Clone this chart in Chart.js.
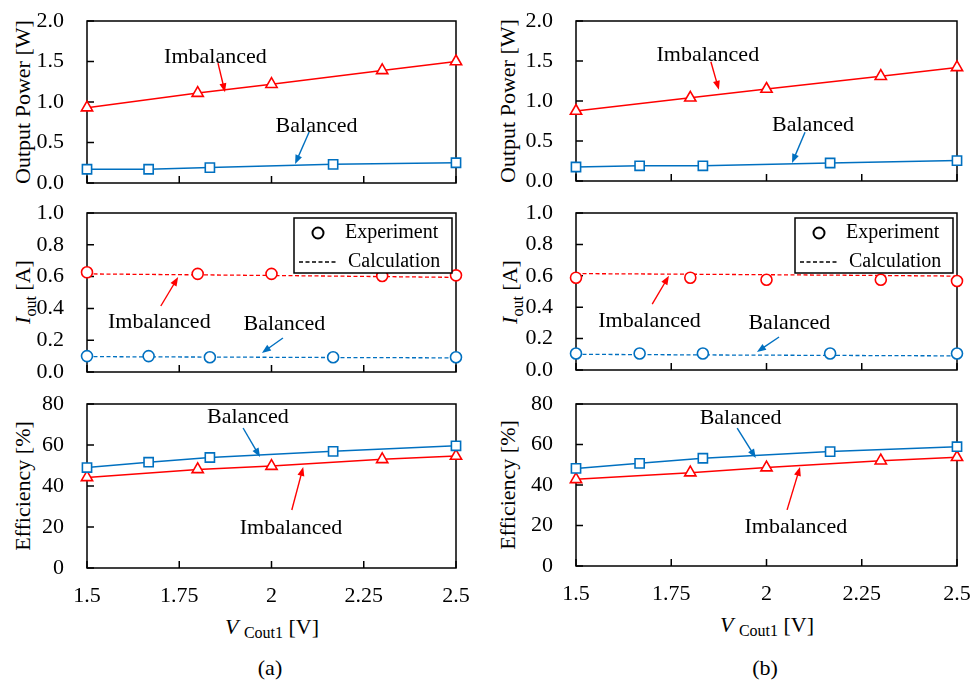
<!DOCTYPE html>
<html>
<head>
<meta charset="utf-8">
<script src="https://cdn.jsdelivr.net/npm/chart.js@4.4.0/dist/chart.umd.min.js"></script>
<style>
  body { margin: 0; background: #fff; width: 976px; height: 689px; position: relative; overflow: hidden;
         font-family: "Liberation Serif", "Times New Roman", serif; color: #000; }
  .panel { position: absolute; }
  .panel canvas { display: block; }
  .t { position: absolute; white-space: nowrap; font-size: 22px; line-height: 1; transform: translate(-50%, -50%); }
  .rot { transform: translate(-50%, -50%) rotate(-90deg); }
  .sub { font-size: 16px; position: relative; }
</style>
</head>
<body>

<div class="t rot" style="left:23px;top:102px">Output Power [W]</div>
<div class="t rot" style="left:23px;top:292px"><i>I</i><span class="sub" style="top:6px">out</span> [A]</div>
<div class="t rot" style="left:23px;top:486px">Efficiency [%]</div>
<div class="t rot" style="left:508px;top:101px">Output Power [W]</div>
<div class="t rot" style="left:510px;top:292px"><i>I</i><span class="sub" style="top:6px">out</span> [A]</div>
<div class="t rot" style="left:508px;top:485px">Efficiency [%]</div>
<div class="t" style="left:272px;top:627px"><i>V</i> <span class="sub" style="top:4px">Cout1</span> [V]</div>
<div class="t" style="left:767px;top:625px"><i>V</i> <span class="sub" style="top:4px">Cout1</span> [V]</div>
<div class="t" style="left:270px;top:668px">(a)</div>
<div class="t" style="left:765px;top:668px">(b)</div>

<script>
// x positions of the two measurement sets
const vImb = [1.5, 1.8, 2.0, 2.3, 2.5];
const vBal = [1.5, 1.667, 1.833, 2.167, 2.5];
const xTicks = [1.5, 1.75, 2, 2.25, 2.5];

// (a)
const powerImbA = [0.93, 1.11, 1.22, 1.39, 1.50];
const powerBalA = [0.17, 0.17, 0.19, 0.23, 0.25];
const ioutImbA = [0.627, 0.617, 0.617, 0.604, 0.608];
const ioutImbCalcA = [0.617, 0.611, 0.607, 0.600, 0.595];
const ioutBalA = [0.10, 0.10, 0.093, 0.093, 0.093];
const ioutBalCalcA = [0.097, 0.095, 0.094, 0.091, 0.089];
const effBalA = [49.0, 51.6, 53.9, 56.9, 59.6];
const effImbA = [44.2, 48.1, 49.7, 53.0, 54.6];

// (b)
const powerImbB = [0.875, 1.04, 1.15, 1.31, 1.42];
const powerBalB = [0.175, 0.19, 0.19, 0.225, 0.255];
const ioutImbB = [0.588, 0.588, 0.575, 0.575, 0.567];
const ioutImbCalcB = [0.614, 0.610, 0.607, 0.602, 0.598];
const ioutBalB = [0.105, 0.105, 0.105, 0.105, 0.105];
const ioutBalCalcB = [0.100, 0.098, 0.096, 0.093, 0.090];
const effBalB = [48.2, 50.7, 53.2, 56.5, 58.9];
const effImbB = [42.8, 46.1, 48.6, 52.0, 53.7];

const legendLabels = ['Experiment', 'Calculation'];

const RED = '#ff0000';
const BLUE = '#0070c0';
const FONT = '"Liberation Serif", "Times New Roman", serif';

Chart.defaults.font.family = FONT;
Chart.defaults.font.size = 22;
Chart.defaults.color = '#000';

function pts(xs, ys) {
  return xs.map((x, i) => ({ x: x, y: ys[i] }));
}

function markers(label, xs, ys, color, style, r, line) {
  return {
    label: label, data: pts(xs, ys), showLine: line,
    borderColor: color, borderWidth: 1.5, tension: 0,
    pointStyle: style, pointRadius: r, pointBorderWidth: 1.6,
    pointBorderColor: color, pointBackgroundColor: '#fff', clip: false
  };
}

function calc(label, xs, ys, color) {
  return {
    label: label, data: pts(xs, ys), borderColor: color, borderWidth: 1.3,
    borderDash: [4, 2.5], pointRadius: 0, tension: 0, clip: false
  };
}

function arrow(ctx, x1, y1, x2, y2, color) {
  const a = Math.atan2(y2 - y1, x2 - x1);
  const L = 9, W = 3.5;
  ctx.strokeStyle = color;
  ctx.fillStyle = color;
  ctx.lineWidth = 1.4;
  ctx.beginPath();
  ctx.moveTo(x1, y1);
  ctx.lineTo(x2 - Math.cos(a) * L * 0.8, y2 - Math.sin(a) * L * 0.8);
  ctx.stroke();
  ctx.beginPath();
  ctx.moveTo(x2, y2);
  ctx.lineTo(x2 - L * Math.cos(a) + W * Math.sin(a), y2 - L * Math.sin(a) - W * Math.cos(a));
  ctx.lineTo(x2 - L * Math.cos(a) - W * Math.sin(a), y2 - L * Math.sin(a) + W * Math.cos(a));
  ctx.closePath();
  ctx.fill();
}

// frame, inward ticks, callouts and the inset legend
function decor(notes, withLegend) {
  return {
    id: 'decor',
    beforeDatasetsDraw(chart) {
      const { ctx, chartArea: a, scales } = chart;
      ctx.save();
      ctx.strokeStyle = '#000';
      ctx.lineWidth = 1.5;
      ctx.beginPath();
      scales.x.ticks.forEach((t) => {
        const px = scales.x.getPixelForValue(t.value);
        ctx.moveTo(px, a.bottom);
        ctx.lineTo(px, a.bottom - 7);
      });
      scales.y.ticks.forEach((t) => {
        const py = scales.y.getPixelForValue(t.value);
        ctx.moveTo(a.left, py);
        ctx.lineTo(a.left + 7, py);
      });
      ctx.stroke();
      ctx.strokeRect(a.left, a.top, a.right - a.left, a.bottom - a.top);
      ctx.restore();
    },
    afterDatasetsDraw(chart) {
      const { ctx, chartArea: a, scales } = chart;
      const X = (v) => scales.x.getPixelForValue(v);
      const Y = (v) => scales.y.getPixelForValue(v);
      ctx.save();
      notes.forEach((n) => {
        arrow(ctx, X(n.from[0]), Y(n.from[1]), X(n.to[0]), Y(n.to[1]), n.color);
        ctx.fillStyle = '#000';
        ctx.font = '22px ' + FONT;
        ctx.textAlign = 'center';
        ctx.textBaseline = 'middle';
        ctx.fillText(n.text, X(n.x), Y(n.y));
      });
      if (withLegend) {
        const bw = 158, bh = 55;
        const bx = a.right - 4 - bw, by = a.top + 5;
        ctx.fillStyle = '#fff';
        ctx.fillRect(bx, by, bw, bh);
        ctx.strokeStyle = '#000';
        ctx.lineWidth = 1.5;
        ctx.strokeRect(bx, by, bw, bh);
        ctx.lineWidth = 2;
        ctx.beginPath();
        ctx.arc(bx + 24, by + 15, 5.5, 0, Math.PI * 2);
        ctx.stroke();
        ctx.lineWidth = 1.3;
        ctx.setLineDash([4, 2.5]);
        ctx.beginPath();
        ctx.moveTo(bx + 5, by + 44);
        ctx.lineTo(bx + 43, by + 44);
        ctx.stroke();
        ctx.setLineDash([]);
        ctx.fillStyle = '#000';
        ctx.font = '20px ' + FONT;
        ctx.textAlign = 'left';
        ctx.textBaseline = 'middle';
        ctx.fillText(legendLabels[0], bx + 51, by + 15);
        ctx.fillText(legendLabels[1], bx + 54, by + 44);
      }
      ctx.restore();
    }
  };
}

// tick padding is added to the scales' own edge padding, so leave room for it
const PAD_T = 42, PAD_R = 34, Y_W = 62;

function panel(area, yAxis, datasets, showX, notes, withLegend) {
  const xH = showX ? 62 : 42;
  const w = area.right - area.left + Y_W + PAD_R;
  const h = area.bottom - area.top + PAD_T + xH;
  const wrap = document.createElement('div');
  wrap.className = 'panel';
  wrap.style.left = (area.left - Y_W) + 'px';
  wrap.style.top = (area.top - PAD_T) + 'px';
  const cv = document.createElement('canvas');
  cv.width = w;
  cv.height = h;
  wrap.appendChild(cv);
  document.body.appendChild(wrap);

  return new Chart(cv, {
    type: 'line',
    data: { datasets: datasets },
    options: {
      responsive: false,
      animation: false,
      events: [],
      layout: { padding: { top: PAD_T, right: PAD_R, left: 0, bottom: 0 } },
      plugins: { legend: { display: false }, tooltip: { enabled: false } },
      scales: {
        x: {
          type: 'linear', min: 1.5, max: 2.5,
          afterBuildTicks: (s) => { s.ticks = xTicks.map((v) => ({ value: v })); },
          afterFit: (s) => { s.height = xH; },
          ticks: { display: showX, padding: 15, maxRotation: 0, callback: (v) => String(v) },
          grid: { display: false, drawTicks: false },
          border: { display: false }
        },
        y: {
          min: yAxis.min, max: yAxis.max,
          afterFit: (s) => { s.width = Y_W; },
          ticks: { stepSize: yAxis.step, padding: 23, callback: (v) => v.toFixed(yAxis.dec) },
          grid: { display: false, drawTicks: false },
          border: { display: false }
        }
      }
    },
    plugins: [decor(notes, withLegend)]
  });
}

const powerAxis = { min: 0, max: 2, step: 0.5, dec: 1 };
const ioutAxis = { min: 0, max: 1, step: 0.2, dec: 1 };
const effAxis = { min: 0, max: 80, step: 20, dec: 0 };

// column (a)
panel({ left: 87, right: 456, top: 21, bottom: 183 }, powerAxis, [
  markers('Imbalanced', vImb, powerImbA, RED, 'triangle', 6.5, true),
  markers('Balanced', vBal, powerBalA, BLUE, 'rect', 6.5, true)
], false, [
  { text: 'Imbalanced', x: 1.848, y: 1.556, from: [1.855, 1.48], to: [1.874, 1.12], color: RED },
  { text: 'Balanced', x: 2.122, y: 0.70, from: [2.102, 0.63], to: [2.064, 0.235], color: BLUE }
], false);

panel({ left: 87, right: 456, top: 213, bottom: 372 }, ioutAxis, [
  markers('Imbalanced', vImb, ioutImbA, RED, 'circle', 5.5, false),
  markers('Balanced', vBal, ioutBalA, BLUE, 'circle', 5.5, false),
  calc('Imbalanced calc', vImb, ioutImbCalcA, RED),
  calc('Balanced calc', vBal, ioutBalCalcA, BLUE)
], false, [
  { text: 'Imbalanced', x: 1.696, y: 0.314, from: [1.70, 0.415], to: [1.747, 0.597], color: RED },
  { text: 'Balanced', x: 2.035, y: 0.30, from: [2.031, 0.214], to: [1.974, 0.12], color: BLUE }
], true);

panel({ left: 87, right: 456, top: 404, bottom: 568 }, effAxis, [
  markers('Balanced', vBal, effBalA, BLUE, 'rect', 6.5, true),
  markers('Imbalanced', vImb, effImbA, RED, 'triangle', 6.5, true)
], true, [
  { text: 'Balanced', x: 1.936, y: 73.7, from: [1.923, 68.3], to: [1.969, 54.1], color: BLUE },
  { text: 'Imbalanced', x: 2.053, y: 19.5, from: [2.055, 28.3], to: [2.086, 49.3], color: RED }
], false);

// column (b)
panel({ left: 576, right: 957, top: 21, bottom: 181 }, powerAxis, [
  markers('Imbalanced', vImb, powerImbB, RED, 'triangle', 6.5, true),
  markers('Balanced', vBal, powerBalB, BLUE, 'rect', 6.5, true)
], false, [
  { text: 'Imbalanced', x: 1.846, y: 1.575, from: [1.854, 1.49], to: [1.875, 1.14], color: RED },
  { text: 'Balanced', x: 2.122, y: 0.70, from: [2.101, 0.61], to: [2.067, 0.225], color: BLUE }
], false);

panel({ left: 576, right: 957, top: 213, bottom: 370 }, ioutAxis, [
  markers('Imbalanced', vImb, ioutImbB, RED, 'circle', 5.5, false),
  markers('Balanced', vBal, ioutBalB, BLUE, 'circle', 5.5, false),
  calc('Imbalanced calc', vImb, ioutImbCalcB, RED),
  calc('Balanced calc', vBal, ioutBalCalcB, BLUE)
], false, [
  { text: 'Imbalanced', x: 1.693, y: 0.312, from: [1.70, 0.42], to: [1.744, 0.60], color: RED },
  { text: 'Balanced', x: 2.06, y: 0.30, from: [2.033, 0.21], to: [1.975, 0.115], color: BLUE }
], true);

panel({ left: 576, right: 957, top: 404, bottom: 566 }, effAxis, [
  markers('Balanced', vBal, effBalB, BLUE, 'rect', 6.5, true),
  markers('Imbalanced', vImb, effImbB, RED, 'triangle', 6.5, true)
], true, [
  { text: 'Balanced', x: 1.932, y: 73.1, from: [1.923, 68.1], to: [1.972, 53.3], color: BLUE },
  { text: 'Imbalanced', x: 2.077, y: 19.3, from: [2.054, 27.7], to: [2.088, 48.9], color: RED }
], false);
</script>
</body>
</html>
